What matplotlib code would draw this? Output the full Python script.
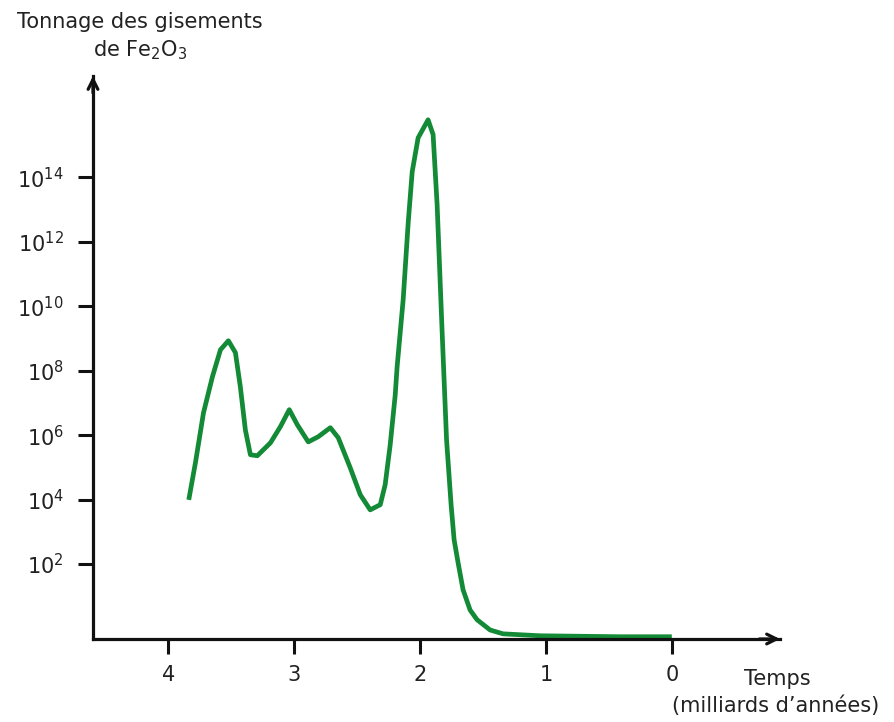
import matplotlib
matplotlib.use("Agg")
import matplotlib.pyplot as plt

plt.rcParams['font.family'] = ['DejaVu Sans']
plt.rcParams['mathtext.default'] = 'regular'

# Time (billions of years ago) and log10 of Fe2O3 deposit tonnage
age_ga = [3.839, 3.786, 3.722, 3.651, 3.587, 3.524, 3.468, 3.429, 3.389, 3.349,
          3.294, 3.190, 3.111, 3.040, 2.976, 2.889, 2.810, 2.714, 2.651, 2.556,
          2.476, 2.397, 2.317, 2.278, 2.238, 2.198, 2.183, 2.135, 2.095, 2.063,
          2.016, 1.937, 1.897, 1.865, 1.825, 1.790, 1.754, 1.730, 1.698, 1.659,
          1.603, 1.548, 1.444, 1.341, 1.048, 0.41, 0.0]
log_tonnage = [3.99, 5.14, 6.69, 7.81, 8.65, 8.93, 8.56, 7.50, 6.16, 5.39,
               5.36, 5.76, 6.26, 6.79, 6.32, 5.79, 5.95, 6.23, 5.92, 4.99,
               4.15, 3.68, 3.84, 4.46, 5.70, 7.25, 8.12, 10.20, 12.59, 14.18,
               15.23, 15.79, 15.33, 13.15, 9.18, 5.85, 3.84, 2.75, 2.03, 1.20,
               0.57, 0.27, -0.05, -0.17, -0.23, -0.26, -0.26]
tonnage = [10 ** v for v in log_tonnage]

x_ticks = [4, 3, 2, 1, 0]
y_exponents = [2, 4, 6, 8, 10, 12, 14]

W, H = 895, 722
fig = plt.figure(figsize=(W / 100, H / 100), dpi=100)
ax = fig.add_axes([93 / W, (H - 639) / H, (780 - 93) / W, (639 - 76) / H])

ax.plot(age_ga, tonnage, color='#138a36', lw=3.4, solid_capstyle='butt',
        solid_joinstyle='round')

ax.set_yscale('log')
ax.set_xlim(4.60, -0.86)
ax.set_ylim(10 ** -0.33, 10 ** 17.15)

ax.set_xticks(x_ticks)
ax.set_xticklabels([str(t) for t in x_ticks])
ax.set_yticks([10 ** e for e in y_exponents])
ax.set_yticklabels([r'$10^{%d}$' % e for e in y_exponents])
ax.yaxis.set_minor_locator(matplotlib.ticker.NullLocator())

for s in ['top', 'right']:
    ax.spines[s].set_visible(False)
for s in ['left', 'bottom']:
    ax.spines[s].set_linewidth(2.3)
    ax.spines[s].set_color('#111111')

ax.tick_params(axis='y', length=11, width=2.2, pad=10, labelsize=15, colors='#111111',
               labelcolor='#222222')
ax.tick_params(axis='x', length=11, width=2.2, pad=8, labelsize=15, colors='#111111',
               labelcolor='#222222')

# Arrow heads
ax.annotate('', xy=(1.0, 0), xytext=(0.97, 0), xycoords='axes fraction',
            arrowprops=dict(arrowstyle='->,head_length=0.7,head_width=0.35',
                            lw=2.3, color='#111111', shrinkA=0, shrinkB=0))
ax.annotate('', xy=(0, 1.0), xytext=(0, 0.97), xycoords='axes fraction',
            arrowprops=dict(arrowstyle='->,head_length=0.7,head_width=0.35',
                            lw=2.3, color='#111111', shrinkA=0, shrinkB=0))

fig.text(140 / W, 1 - 22 / H, 'Tonnage des gisements', ha='center',
         va='center', fontsize=15, color='#222222')
fig.text(140 / W, 1 - 50 / H, 'de Fe$_2$O$_3$', ha='center',
         va='center', fontsize=15, color='#222222')
fig.text(777 / W, 1 - 679 / H, 'Temps', ha='center',
         va='center', fontsize=15, color='#222222')
fig.text(776 / W, 1 - 706 / H, '(milliards d\u2019années)', ha='center',
         va='center', fontsize=15, color='#222222')

fig.savefig('out.png', dpi=100, facecolor='white')
